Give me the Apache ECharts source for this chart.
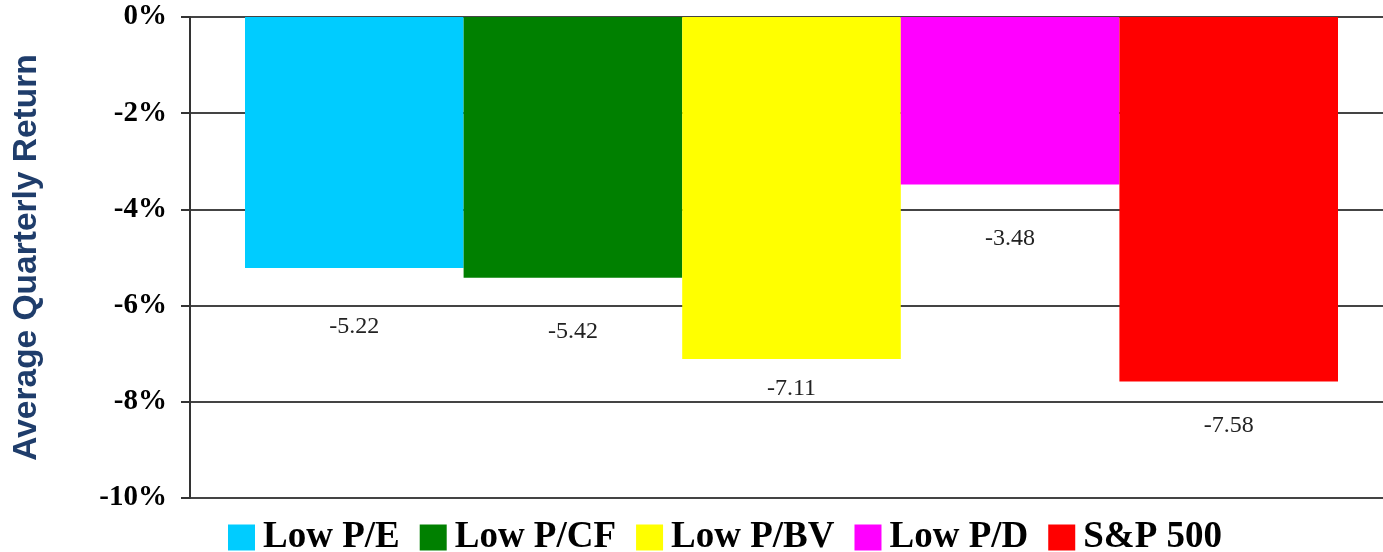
<!DOCTYPE html>
<html>
<head>
<meta charset="utf-8">
<script src="https://cdn.jsdelivr.net/npm/echarts@6/dist/echarts.min.js"></script>
<style>html,body{margin:0;padding:0;background:#fff;overflow:hidden}#c{width:1393px;height:552px}</style>
</head>
<body>
<div id="c"></div>
<script>
var categories = ['Average'];
var seriesNames = ['Low P/E', 'Low P/CF', 'Low P/BV', 'Low P/D', 'S&P 500'];
var seriesValues = [-5.22, -5.42, -7.11, -3.48, -7.58];
var seriesColors = ['#00CCFF', '#008000', '#FFFF00', '#FF00FF', '#FF0000'];
var labelDistances = [47, 42, 18, 42, 32];
var yTicks = [0, -2, -4, -6, -8, -10];

var chart = echarts.init(document.getElementById('c'), null, {renderer: 'canvas'});
var series = seriesNames.map(function (n, i) {
  return {
    name: n,
    type: 'bar',
    data: [seriesValues[i]],
    barWidth: 218.6,
    barGap: '0%',
    itemStyle: {color: seriesColors[i]},
    label: {
      show: true,
      position: 'bottom',
      distance: labelDistances[i],
      formatter: function (p) { return p.value.toFixed(2); },
      fontFamily: 'Liberation Serif',
      fontSize: 24,
      color: '#222'
    }
  };
});
chart.setOption({
  animation: false,
  grid: {left: 190, right: 0, top: 17, bottom: 54},
  legend: {
    left: 223, bottom: -9,
    itemWidth: 27, itemHeight: 26, itemGap: 20,
    icon: 'rect',
    textStyle: {fontFamily: 'Liberation Serif', fontWeight: 'bold', fontSize: 37, color: '#000', padding: [0, 0, 0, 3]},
    data: seriesNames
  },
  xAxis: {
    type: 'category',
    data: categories,
    axisLine: {show: false},
    axisTick: {show: false},
    axisLabel: {show: false}
  },
  yAxis: {
    type: 'value',
    min: yTicks[yTicks.length - 1],
    max: yTicks[0],
    interval: 2,
    name: 'Average Quarterly Return',
    nameLocation: 'middle',
    nameGap: 146,
    nameTextStyle: {fontFamily: 'Liberation Sans', fontWeight: 'bold', fontSize: 33.5, color: '#1F3D6B'},
    axisLine: {show: true, lineStyle: {color: '#333', width: 2}},
    axisTick: {show: true, length: 9, lineStyle: {color: '#333', width: 2}},
    axisLabel: {
      formatter: function (v) { return v + '%'; },
      fontFamily: 'Liberation Serif', fontWeight: 'bold', fontSize: 29, color: '#000', margin: 23
    },
    splitLine: {show: true, lineStyle: {color: '#444', width: 2}}
  },
  series: series
});
</script>
</body>
</html>
